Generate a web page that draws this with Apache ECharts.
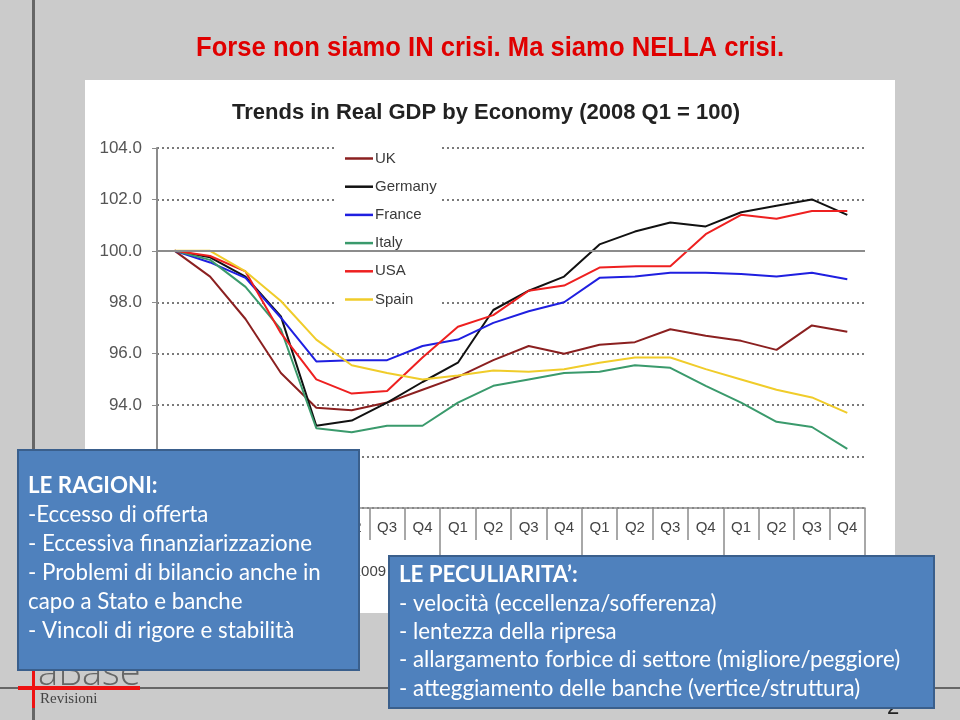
<!DOCTYPE html>
<html>
<head>
<meta charset="utf-8">
<script src="https://cdn.jsdelivr.net/npm/echarts@6/dist/echarts.min.js"></script>
<style>
html,body{margin:0;padding:0;background:#cbcbcb;}
#c{width:960px;height:720px;}
</style>
</head>
<body>
<div id="c"></div>
<script>
// ---- data ----
var quarters = ['Q1','Q2','Q3','Q4','Q1','Q2','Q3','Q4','Q1','Q2','Q3','Q4','Q1','Q2','Q3','Q4','Q1','Q2','Q3','Q4'];
var years = ['2008','2009','2010','2011','2012'];
var yTicks = [90, 92, 94, 96, 98, 100, 102, 104];
var seriesNames = ['UK','Germany','France','Italy','USA','Spain'];
var uk      = [100, 99.0, 97.35, 95.25, 93.9, 93.8, 94.1, 94.6, 95.1, 95.75, 96.3, 96.0, 96.35, 96.45, 96.95, 96.7, 96.5, 96.15, 97.1, 96.85];
var germany = [100, 99.75, 99.0, 97.45, 93.2, 93.4, 94.1, 94.9, 95.65, 97.7, 98.45, 99.0, 100.25, 100.75, 101.1, 100.95, 101.5, 101.75, 102.0, 101.4];
var france  = [100, 99.55, 98.95, 97.4, 95.7, 95.75, 95.75, 96.3, 96.55, 97.2, 97.65, 98.0, 98.95, 99.0, 99.15, 99.15, 99.1, 99.0, 99.15, 98.9];
var italy   = [100, 99.65, 98.6, 96.95, 93.1, 92.95, 93.2, 93.2, 94.1, 94.75, 95.0, 95.25, 95.3, 95.55, 95.45, 94.75, 94.1, 93.35, 93.15, 92.3];
var usa     = [100, 99.8, 99.2, 96.8, 95.0, 94.45, 94.55, 95.85, 97.05, 97.5, 98.45, 98.65, 99.35, 99.4, 99.4, 100.65, 101.4, 101.25, 101.55, 101.55];
var spain   = [100, 100, 99.2, 98.05, 96.55, 95.55, 95.25, 95.0, 95.15, 95.35, 95.3, 95.4, 95.65, 95.85, 95.85, 95.4, 95.0, 94.6, 94.3, 93.7];
var seriesData = [uk, germany, france, italy, usa, spain];
var colors = ['#8b2020', '#111111', '#1f1fe0', '#3a9a6c', '#ee2020', '#f0cc2a'];

var chart = echarts.init(document.getElementById('c'));

var series = seriesNames.map(function (n, i) {
  var s = {
    name: n, type: 'line', data: seriesData[i], symbol: 'none',
    lineStyle: { color: colors[i], width: 2 }, itemStyle: { color: colors[i] },
    z: 3
  };
  if (i === 0) {
    s.markLine = {
      silent: true, symbol: 'none', label: { show: false },
      lineStyle: { color: '#8c8c8c', width: 2, type: 'solid' },
      data: [{ yAxis: 100 }]
    };
  }
  return s;
});

var boxFont = 'Lato, "Open Sans", sans-serif';
function boxText(lines, x, y, lh, boldFirst) {
  return lines.map(function (t, i) {
    return {
      type: 'text', left: x, top: y + i * lh, z: 101,
      style: { text: t, fill: '#ffffff', font: (i === 0 && boldFirst ? 'bold ' : '') + '22.3px ' + boxFont }
    };
  });
}

var graphics = [
  // chart picture background
  { type: 'rect', shape: { x: 85, y: 80, width: 810, height: 533 }, style: { fill: '#ffffff' }, z: -10 },
  // slide lines
  { type: 'rect', shape: { x: 32, y: 0, width: 3, height: 720 }, style: { fill: '#666666' }, z: -5 },
  { type: 'rect', shape: { x: 0, y: 687, width: 960, height: 2 }, style: { fill: '#666666' }, z: -5 },
  // slide title
  { type: 'text', x: 490, y: 48, scaleX: 0.915, originX: 0, originY: 0, z: 50,
    style: { text: 'Forse non siamo IN crisi. Ma siamo NELLA crisi.', fill: '#e00000', align: 'center', verticalAlign: 'middle',
             font: 'bold 28px "Liberation Sans", Arial, sans-serif' } },
  // page number
  { type: 'text', left: 887, top: 697, z: 50, style: { text: '2', fill: '#222', font: '22px Arial' } },
  // logo
  { type: 'text', left: 38, top: 655, z: 50, style: { text: 'aBase', fill: '#666', font: '300 38px "Open Sans", sans-serif' } },
  { type: 'rect', shape: { x: 18, y: 686, width: 122, height: 4 }, style: { fill: '#ee1111' }, z: 51 },
  { type: 'rect', shape: { x: 32, y: 668, width: 3, height: 40 }, style: { fill: '#ee1111' }, z: 51 },
  { type: 'text', left: 40, top: 692, z: 50, style: { text: 'Revisioni', fill: '#444', font: '15px "Liberation Serif", serif' } },
  // box 1
  { type: 'rect', shape: { x: 18, y: 450, width: 341, height: 220 }, style: { fill: '#4f81bd', stroke: '#3a5f8c', lineWidth: 2 }, z: 100 },
  // box 2
  { type: 'rect', shape: { x: 389, y: 556, width: 545, height: 152 }, style: { fill: '#4f81bd', stroke: '#3a5f8c', lineWidth: 2 }, z: 100 }
];
graphics = graphics.concat(boxText([
  'LE RAGIONI:',
  '-Eccesso di offerta',
  '- Eccessiva finanziarizzazione',
  '- Problemi di bilancio anche in',
  'capo a Stato e banche',
  '- Vincoli di rigore e stabilità'
], 28, 475, 29, true));
graphics = graphics.concat(boxText([
  'LE PECULIARITA\u2019:',
  '- velocità (eccellenza/sofferenza)',
  '- lentezza della ripresa',
  '- allargamento forbice di settore (migliore/peggiore)',
  '- atteggiamento delle banche (vertice/struttura)'
], 399, 564, 28.4, true));

var option = {
  animation: false,
  backgroundColor: '#cbcbcb',
  title: [
    {
      text: 'Trends in Real GDP by Economy (2008 Q1 = 100)',
      left: 481, textAlign: 'center', top: 97,
      textStyle: { color: '#222', fontSize: 22, fontWeight: 'bold', fontFamily: 'Arial, "Liberation Sans", sans-serif' }
    }
  ],
  legend: {
    data: seriesNames, orient: 'vertical', left: 337, top: 143,
    padding: [8, 4, 8, 8], backgroundColor: '#ffffff',
    icon: 'path://M0 0H28V2.5H0Z',
    itemWidth: 28, itemHeight: 14, itemGap: 13.2,
    textStyle: { fontSize: 15, color: '#3a3a3a', fontFamily: 'Arial, "Liberation Sans", sans-serif', padding: [0, 0, 0, -3] }
  },
  grid: { left: 157, right: 95, top: 148, bottom: 212, containLabel: false },
  xAxis: [
    {
      type: 'category', data: quarters, position: 'bottom', boundaryGap: true,
      axisLine: { show: true, lineStyle: { color: '#8c8c8c', width: 1.5 } },
      axisTick: { show: true, interval: 0, length: 32, lineStyle: { color: '#8c8c8c', width: 1.5 } },
      axisLabel: { interval: 0, margin: 12, fontSize: 15, color: '#444', fontFamily: 'Arial, "Liberation Sans", sans-serif' },
      splitLine: { show: false }
    },
    {
      type: 'category', data: years, position: 'bottom', boundaryGap: true,
      axisLine: { show: false },
      axisTick: { show: true, interval: 0, length: 95, lineStyle: { color: '#8c8c8c', width: 1.5 } },
      axisLabel: { interval: 0, margin: 56, fontSize: 15, color: '#444', fontFamily: 'Arial, "Liberation Sans", sans-serif' },
      splitLine: { show: false }
    }
  ],
  yAxis: {
    type: 'value', min: yTicks[0], max: yTicks[yTicks.length - 1], interval: 2,
    axisLine: { show: true, lineStyle: { color: '#8c8c8c', width: 2 } },
    axisTick: { show: true, length: 5, lineStyle: { color: '#8c8c8c' } },
    axisLabel: {
      margin: 15, fontSize: 17, color: '#555', fontFamily: 'Arial, "Liberation Sans", sans-serif',
      formatter: function (v) { return v.toFixed(1); }
    },
    splitLine: { show: true, lineStyle: { color: '#7a7a7a', width: 2, type: [2, 3] } }
  },
  series: series,
  graphic: graphics
};
chart.setOption(option);
</script>
</body>
</html>
